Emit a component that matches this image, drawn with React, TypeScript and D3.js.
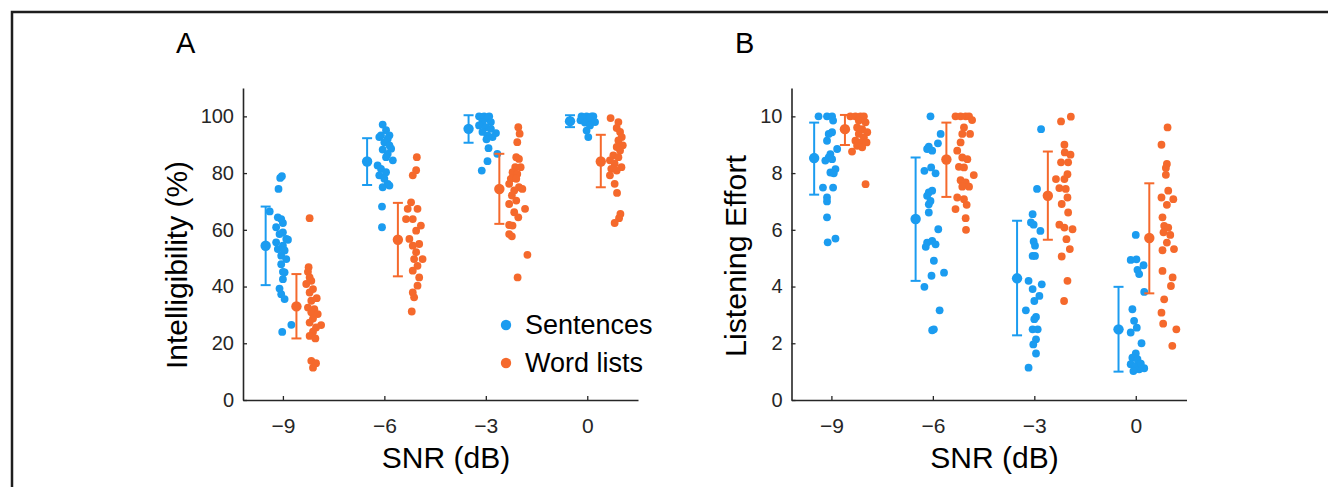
import React, { useRef, useEffect } from 'react';
import * as d3 from 'd3';

const snrLevels = [-9, -6, -3, 0];
const snrTickLabels = ['\u22129', '\u22126', '\u22123', '0'];
const seriesNames = ['Sentences', 'Word lists'];
const seriesColors = ['#1b9cf0', '#f5692c'];

// Panel A - intelligibility (%): group means and whisker ends
const intelSentMean = [54.4, 84.1, 95.6, 98.3];
const intelSentLow = [40.5, 75.8, 90.7, 96.2];
const intelSentHigh = [68.2, 92.3, 100.4, 100.4];
const intelWordMean = [33.0, 56.5, 74.4, 84.1];
const intelWordLow = [21.7, 43.6, 62.1, 75.0];
const intelWordHigh = [44.4, 69.5, 86.8, 93.5];

// Panel B - listening effort
const effortSentMean = [8.53, 6.38, 4.29, 2.49];
const effortSentLow = [7.24, 4.2, 2.28, 1.0];
const effortSentHigh = [9.78, 8.55, 6.32, 3.99];
const effortWordMean = [9.55, 8.48, 7.2, 5.71];
const effortWordLow = [8.99, 7.16, 5.65, 3.76];
const effortWordHigh = [10.05, 9.78, 8.76, 7.64];

// where the mean marker sits relative to the SNR level (dB)
const meanShift = [-0.51, 0.4];

// individual listeners: [SNR jitter (dB), value], one list per SNR level
const intelSentPts = [
  [[-.08,78.3],[-.03,78.9],[-.13,74.4],[-.39,66.5],[-.15,64.4],[-.05,63.8],[0,62.4],[-.2,60.9],[0,59.1],[-.1,58.5],[.1,56.8],[-.2,55.6],[0,54.4],[.15,56.5],[-.15,53.2],[.05,52.7],[-.05,50.9],[.1,49.7],[-.05,47.9],[0,45.2],[.05,45],[0,42.6],[-.1,39.3],[-.05,37.3],[.05,35.6],[.25,26.5],[-.02,24]],
  [[-.05,97.1],[.05,95.1],[-.1,93.3],[.15,93.3],[-.15,92.7],[.1,92.1],[0,90.9],[.15,89.8],[.2,88.6],[-.05,88.3],[.1,86.8],[.05,85.6],[.25,84.5],[-.2,82.7],[-.1,81.5],[.05,80.3],[-.15,79.2],[0,78],[.1,76.2],[.15,75.6],[-.05,75],[-.07,68.2],[-.07,60.9]],
  [[-.2,100],[-.05,100],[.1,100],[-.15,99.8],[.05,99.2],[-.1,98],[.15,98],[-.2,96.8],[0,96.2],[.15,95.6],[-.1,94.5],[.3,94.1],[.05,93.3],[.2,92.7],[.02,91.9],[.08,88.8],[.34,86.8],[.05,84.2],[-.12,80.9]],
  [[-.17,100],[-.02,100],[.13,100],[.18,100],[-.2,98.6],[-.12,99.2],[.06,99.2],[-.07,97.8],[.23,98],[.08,96.8],[-.02,95],[.03,92.7]],
];
const intelWordPts = [
  [[.79,64.1],[.76,46.8],[.74,45.2],[.79,43.2],[.84,42],[.69,40.9],[.89,39.1],[.79,37.9],[1,35.9],[.84,35],[.74,32.6],[.93,32],[.84,30.9],[1.03,30.3],[.89,28.7],[.79,27.3],[1.13,26.4],[.98,25.6],[.89,24.1],[.79,22.6],[.96,21.7],[.84,13.8],[.98,13],[.89,11.4]],
  [[.96,85.6],[.94,81],[.84,79.2],[.79,69.7],[.69,67.4],[.98,67.4],[.64,63.8],[.84,63.8],[1.08,61.5],[.94,59.7],[.74,56.8],[1.03,55],[.84,54.4],[.94,52.1],[1.13,49.7],[.88,49.7],[.98,47.3],[.84,45.6],[1.03,43.2],[.98,40.3],[.84,37.9],[.88,36.2],[.81,31.2]],
  [[.96,96.2],[1,93.9],[.93,90.9],[.9,85.6],[.98,85],[.87,82.1],[1.03,82.1],[.79,80.3],[.93,79.7],[.74,78],[.9,78],[.69,76.2],[.98,75],[.84,73.9],[1.08,74.4],[.77,72.1],[.9,70.3],[.69,69.1],[1.16,67.4],[.84,66.2],[.96,64.4],[.69,61.7],[.79,61.5],[.69,58.5],[.77,57.7],[1.23,51.2],[.94,43.2]],
  [[.69,99.4],[.92,98],[.87,95.9],[.97,94.5],[1.02,92.7],[.92,91.5],[1.05,89.8],[.87,89.2],[.97,88],[.77,86.2],[.92,85.6],[.67,84.5],[.81,83.3],[1.01,82.1],[.71,81.5],[.87,80.9],[.67,79.2],[.81,76.2],[.88,73],[.98,65.6],[.94,64.1],[.81,62.4]],
];
const effortSentPts = [
  [[-.38,10],[-.13,10],[.02,10],[.05,9.85],[.02,9.44],[-.08,9.38],[-.13,9.14],[.17,8.85],[-.03,8.67],[-.08,8.55],[-.18,8.44],[.02,8.49],[.12,8.14],[-.03,8.02],[.07,7.99],[-.25,7.49],[.05,7.49],[-.13,7.14],[-.13,7],[-.13,6.44],[.12,5.69],[-.11,5.56]],
  [[-.07,10],[.23,9.38],[.15,9.05],[-.12,8.93],[-.17,8.85],[-.02,8.79],[-.25,8.08],[-.05,8.2],[.08,7.99],[-.12,7.32],[-.02,7.38],[-.17,7.2],[-.07,7.02],[-.12,6.9],[-.12,6.61],[.16,6.02],[-.17,5.55],[-.02,5.61],[.08,5.49],[-.21,5.4],[.03,4.91],[.33,4.49],[-.04,4.38],[-.25,3.99],[.2,3.16],[.03,2.49],[-.02,2.46]],
  [[.2,9.55],[.08,7.44],[-.05,6.55],[-.1,6.26],[-.02,6.18],[.18,5.96],[-.02,5.59],[.02,5.44],[-.05,5.08],[.02,5.08],[-.17,4.2],[.22,4.08],[-.05,3.91],[.15,3.67],[0,3.49],[-.25,3.16],[.05,2.93],[0,2.85],[-.05,2.49],[.1,2.49],[.05,2.14],[-.03,1.96],[.05,1.64],[-.17,1.14]],
  [[0,5.82],[-.15,4.94],[.02,4.96],[.23,4.75],[.05,4.59],[.1,4.44],[.25,3.81],[-.1,3.2],[-.05,2.79],[.03,2.55],[-.15,2.38],[.17,2],[0,1.64],[-.1,1.49],[.05,1.44],[-.15,1.26],[0,1.2],[.25,1.12],[.1,1.08],[-.07,1.02],[.15,1.28]],
];
const effortWordPts = [
  [[.56,10],[.71,10],[.86,10],[.96,10],[.81,9.85],[1.01,9.79],[.76,9.61],[.91,9.55],[1.06,9.44],[.81,9.38],[.96,9.26],[.71,9.14],[.86,9.08],[1.04,9.08],[.76,8.96],[.91,8.91],[.61,8.76],[1.01,7.61]],
  [[.67,10],[.82,10],[.97,10],[1.07,10],[1.16,9.87],[.92,9.61],[.87,9.38],[1.1,9.38],[.82,9.08],[.72,8.79],[.87,8.55],[1.02,8.49],[.77,8.22],[.92,8.2],[1.21,7.93],[.82,7.75],[.97,7.67],[.87,7.52],[1.07,7.52],[.72,7.14],[.92,7.08],[1,6.88],[.67,6.73],[.97,6.41],[.98,6]],
  [[1.08,9.99],[.79,9.82],[.89,9],[1.07,8.65],[.9,8.73],[.79,8.38],[1,8.38],[.64,7.79],[.98,7.96],[.89,7.79],[.74,7.47],[.93,7.44],[.98,7.14],[.81,6.91],[1,6.61],[.74,6.18],[.89,6.08],[1.13,6.02],[.95,5.67],[1.05,5.32],[.81,5.06],[.98,4.2],[.88,3.49]],
  [[.94,9.61],[.76,9],[.92,8.32],[.89,8.18],[.89,7.94],[.96,7.38],[.76,7.14],[1.11,7.08],[.92,6.88],[.79,6.44],[.84,6.14],[.96,6.08],[.82,5.91],[1.02,5.82],[.92,5.55],[.79,5.28],[1.13,5.32],[.79,4.55],[1.09,4.32],[1.04,4.02],[.84,3.55],[.76,3.08],[.81,2.69],[1.2,2.49],[1.08,1.91]],
];

const intelTicks = [0, 20, 40, 60, 80, 100];
const effortTicks = [0, 2, 4, 6, 8, 10];

const FONT = '"Liberation Sans", Arial, Helvetica, sans-serif';
const INK = '#262626';

function App() {
  const svgRef = useRef(null);

  useEffect(() => {
    const width = 1328;
    const height = 487;
    const svg = d3.select(svgRef.current);
    svg.selectAll('*').remove();
    svg.attr('width', width).attr('height', height);

    // outer frame (only top and left are inside the crop)
    svg.append('path')
      .attr('d', `M12,${height} L12,12 L${width},12`)
      .attr('fill', 'none')
      .attr('stroke', '#1e1e1e')
      .attr('stroke-width', 2.5);

    const panels = [
      {
        letter: 'A', left: 243, letterX: 176, labelX: 187, labelY: 265, labelLen: 208,
        ylabel: 'Intelligibility (%)',
        yMax: 110, ticks: intelTicks,
        means: [intelSentMean, intelWordMean],
        lows: [intelSentLow, intelWordLow],
        highs: [intelSentHigh, intelWordHigh],
        pts: [intelSentPts, intelWordPts],
        legend: true,
      },
      {
        letter: 'B', left: 791.5, letterX: 735, labelX: 746, labelY: 256, labelLen: 202,
        ylabel: 'Listening Effort',
        yMax: 11, ticks: effortTicks,
        means: [effortSentMean, effortWordMean],
        lows: [effortSentLow, effortWordLow],
        highs: [effortSentHigh, effortWordHigh],
        pts: [effortSentPts, effortWordPts],
        legend: false,
      },
    ];

    panels.forEach(p => {
      const x = d3.scaleLinear().domain([-10.18, 1.5]).range([p.left, p.left + 395]);
      const y = d3.scaleLinear().domain([0, p.yMax]).range([400, 88]);
      const g = svg.append('g');

      // y axis
      const yAxis = g.append('g')
        .attr('transform', `translate(${p.left},0)`)
        .call(d3.axisLeft(y).tickValues(p.ticks).tickSizeInner(-4).tickSizeOuter(0).tickPadding(9));
      // x axis
      const xAxis = g.append('g')
        .attr('transform', 'translate(0,400)')
        .call(d3.axisBottom(x).tickValues(snrLevels).tickFormat((d, i) => snrTickLabels[i])
          .tickSizeInner(-4).tickSizeOuter(0).tickPadding(18));

      [yAxis, xAxis].forEach(ax => {
        ax.attr('font-family', FONT).attr('font-size', 20);
        ax.select('.domain').attr('stroke', INK).attr('stroke-width', 1.6);
        ax.selectAll('.tick line').attr('stroke', INK).attr('stroke-width', 1.3);
        ax.selectAll('.tick text').attr('fill', INK);
      });
      xAxis.attr('font-size', 21);

      // raw points
      [0, 1].forEach(s => {
        p.pts[s].forEach((list, i) => {
          g.append('g').selectAll('circle')
            .data(list)
            .enter()
            .append('circle')
            .attr('cx', d => x(snrLevels[i] + d[0]))
            .attr('cy', d => y(d[1]))
            .attr('r', 3.9)
            .attr('fill', seriesColors[s]);
        });
      });

      // means with whiskers
      [0, 1].forEach(s => {
        snrLevels.forEach((lvl, i) => {
          const cx = x(lvl + meanShift[s]);
          const c = seriesColors[s];
          g.append('line')
            .attr('x1', cx).attr('x2', cx)
            .attr('y1', y(p.lows[s][i])).attr('y2', y(p.highs[s][i]))
            .attr('stroke', c).attr('stroke-width', 2);
          [p.lows[s][i], p.highs[s][i]].forEach(v => {
            g.append('line')
              .attr('x1', cx - 5).attr('x2', cx + 5)
              .attr('y1', y(v)).attr('y2', y(v))
              .attr('stroke', c).attr('stroke-width', 2);
          });
          g.append('circle')
            .attr('cx', cx).attr('cy', y(p.means[s][i]))
            .attr('r', 5.2).attr('fill', c);
        });
      });

      // axis titles
      g.append('text')
        .attr('x', p.left + 203)
        .attr('y', 468)
        .attr('text-anchor', 'middle')
        .attr('font-family', FONT)
        .attr('font-size', 30)
        .attr('fill', '#000')
        .text('SNR (dB)');

      g.append('text')
        .attr('transform', `translate(${p.labelX},${p.labelY}) rotate(-90)`)
        .attr('text-anchor', 'middle')
        .attr('font-family', FONT)
        .attr('font-size', 29)
        .attr('textLength', p.labelLen)
        .attr('lengthAdjust', 'spacingAndGlyphs')
        .attr('fill', '#000')
        .text(p.ylabel);

      // panel letter
      g.append('text')
        .attr('x', p.letterX)
        .attr('y', 52.5)
        .attr('font-family', FONT)
        .attr('font-size', 29)
        .attr('fill', '#000')
        .text(p.letter);

      if (p.legend) {
        seriesNames.forEach((name, i) => {
          g.append('circle')
            .attr('cx', 506).attr('cy', 325 + i * 38)
            .attr('r', 5.2).attr('fill', seriesColors[i]);
          g.append('text')
            .attr('x', 525).attr('y', 334 + i * 38)
            .attr('font-family', FONT)
            .attr('font-size', 27)
            .attr('fill', '#000')
            .text(name);
        });
      }
    });
  }, []);

  return (
    <div style={{ position: 'absolute', left: 0, top: 0 }}>
      <svg ref={svgRef}></svg>
    </div>
  );
}

export default App;
